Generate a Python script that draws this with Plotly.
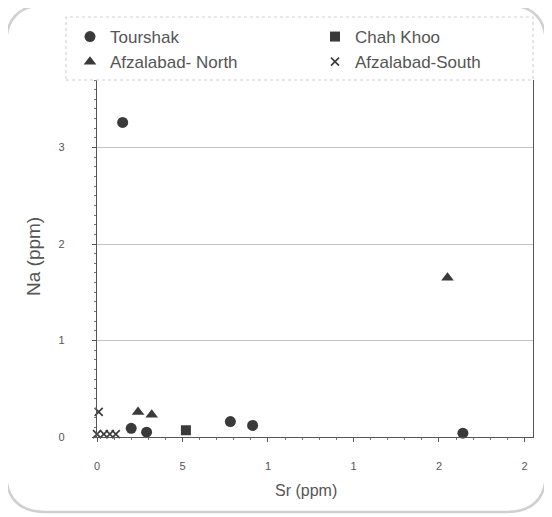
import plotly.graph_objects as go

# ---- data ----
tourshak_sr = [0.15, 0.20, 0.29, 0.78, 0.91, 2.14]
tourshak_na = [3.26, 0.09, 0.05, 0.16, 0.12, 0.04]

chah_sr = [0.52]
chah_na = [0.07]

north_sr = [0.24, 0.32, 2.05]
north_na = [0.26, 0.23, 1.65]

south_sr = [0.01, 0.0, 0.04, 0.075, 0.11]
south_na = [0.26, 0.03, 0.03, 0.03, 0.03]

x_tickvals = [0, 0.5, 1, 1.5, 2, 2.5]
x_ticktext = ["0", "5", "1", "1", "2", "2"]
y_tickvals = [0, 1, 2, 3]
y_ticktext = ["0", "1", "2", "3"]

# ---- geometry (page pixels; the page body adds an 8px offset) ----
OFF = 8
W, H = 552 - OFF, 517 - OFF
PLOT_L, PLOT_R, PLOT_T, PLOT_B = 97, 533, 80, 437   # page pixels
L, R = PLOT_L - OFF, W - (PLOT_R - OFF)
T, B = PLOT_T - OFF, H - (PLOT_B - OFF)
PW, PH = W - L - R, H - T - B

def px(x):
    return (x - OFF - L) / PW

def py(y):
    return (H - B - (y - OFF)) / PH

mk = "#3a3a3a"
txt = "#555555"

fig = go.Figure()
fig.add_trace(go.Scatter(x=tourshak_sr, y=tourshak_na, mode="markers", name="Tourshak",
                         marker=dict(symbol="circle", size=11, color=mk), cliponaxis=False))
fig.add_trace(go.Scatter(x=chah_sr, y=chah_na, mode="markers", name="Chah Khoo",
                         marker=dict(symbol="square", size=10, color=mk), cliponaxis=False))
fig.add_trace(go.Scatter(x=north_sr, y=north_na, mode="markers", name="Afzalabad- North",
                         marker=dict(symbol="triangle-up", size=11, color=mk), cliponaxis=False))
fig.add_trace(go.Scatter(x=south_sr, y=south_na, mode="markers", name="Afzalabad-South",
                         marker=dict(symbol="x-thin-open", size=8, color=mk,
                                     line=dict(width=1.6, color=mk)), cliponaxis=False))

axis_common = dict(
    showline=True, linecolor="#555", linewidth=1.2,
    ticks="outside", ticklen=4, tickcolor="#555",
    tickfont=dict(family="Arial", size=11, color=txt),
    zeroline=False,
    minor=dict(ticks="outside", ticklen=2, tickcolor="#777", dtick=0.1, showgrid=False),
)

fig.update_xaxes(range=[0, 2.55], tickvals=x_tickvals, ticktext=x_ticktext,
                 showgrid=False, ticklabelstandoff=15, **axis_common)
fig.update_yaxes(range=[0, 3.7], tickvals=y_tickvals, ticktext=y_ticktext,
                 showgrid=True, gridcolor="#c4c4c4", gridwidth=1.2,
                 ticklabelstandoff=25, mirror=True, **axis_common)

# outer rounded frame
x0, y0, x1, y1, r = px(6), py(5), px(546), py(512), 40
rx, ry = r / PW, r / PH
path = (f"M {x0+rx},{y0} L {x1-rx},{y0} Q {x1},{y0} {x1},{y0-ry} "
        f"L {x1},{y1+ry} Q {x1},{y1} {x1-rx},{y1} L {x0+rx},{y1} "
        f"Q {x0},{y1} {x0},{y1+ry} L {x0},{y0-ry} Q {x0},{y0} {x0+rx},{y0} Z")
shapes = [
    dict(type="path", xref="paper", yref="paper", path=path,
         line=dict(color="#d0d0d0", width=2.5)),
    # legend box
    dict(type="rect", xref="paper", yref="paper", x0=px(66), x1=px(533), y0=py(80), y1=py(17),
         line=dict(color="#d2d2d2", width=1.2, dash="dot")),
]

annotations = [
    dict(text="Sr (ppm)", xref="paper", yref="paper", x=px(306), y=py(491),
         xanchor="center", yanchor="middle",
         showarrow=False, font=dict(family="Arial", size=16, color=txt)),
    dict(text="Na (ppm)", xref="paper", yref="paper", x=px(33), y=py(257),
         xanchor="center", yanchor="middle",
         showarrow=False, textangle=-90, font=dict(family="Arial", size=19, color=txt)),
]

fig.update_layout(
    width=W, height=H,
    margin=dict(l=L, r=R, t=T, b=B, autoexpand=False),
    paper_bgcolor="white", plot_bgcolor="white",
    showlegend=True,
    legend=dict(orientation="h", x=px(70), y=py(19), xanchor="left", yanchor="top",
                entrywidth=200, entrywidthmode="pixels", itemwidth=30,
                font=dict(family="Arial", size=17, color=txt),
                bgcolor="rgba(0,0,0,0)", tracegroupgap=0),
    shapes=shapes,
    annotations=annotations,
)

fig.write_html("out.html")
